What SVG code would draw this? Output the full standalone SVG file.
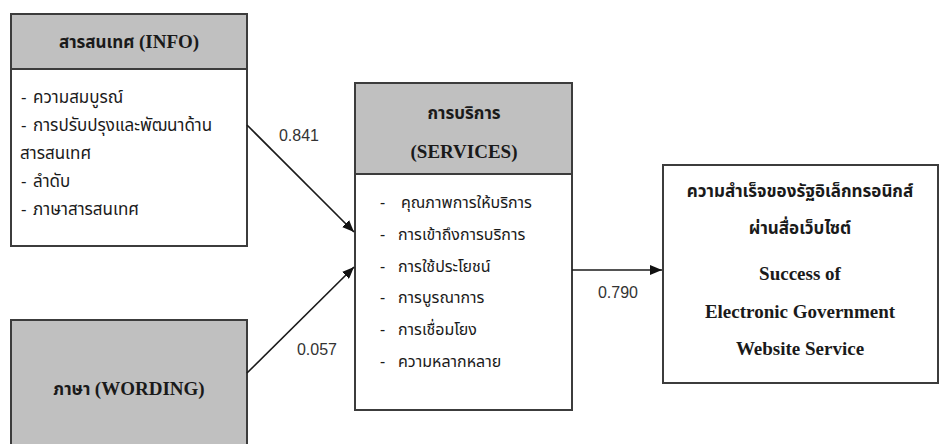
<svg xmlns="http://www.w3.org/2000/svg" width="941" height="444" viewBox="0 0 941 444">
<defs>
<style>
.box{fill:#ffffff;stroke:#3c3c3c;stroke-width:2}
.hdr{fill:#c0c0c0;stroke:#3c3c3c;stroke-width:2}
.th{font-family:"Noto Sans Thai","Noto Sans","DejaVu Sans",sans-serif;font-size:16px;fill:#1a1a1a}
.thi{font-family:"Noto Sans Thai","Noto Sans","DejaVu Sans",sans-serif;font-size:17px;fill:#1a1a1a}
.thb{font-family:"Noto Sans Thai","Noto Sans","DejaVu Sans",sans-serif;font-size:17px;font-weight:bold;fill:#1a1a1a}
.en{font-family:"Liberation Serif","Times New Roman",serif;font-weight:bold;font-size:19px;fill:#1a1a1a}
.num{font-family:"Liberation Sans",Arial,sans-serif;font-size:16px;fill:#333333}
.conn{stroke:#1a1a1a;stroke-width:1.6;fill:none}
</style>
<marker id="arr" viewBox="0 0 12 10" refX="12" refY="5" markerWidth="12" markerHeight="10" markerUnits="userSpaceOnUse" orient="auto">
<path d="M0,0 L12,5 L0,10 z" fill="#111111"/>
</marker>
</defs>
<rect width="941" height="444" fill="#ffffff"/>

<g id="info">
<rect class="box" x="11" y="14" width="236" height="232"/>
<rect class="hdr" x="11" y="14" width="236" height="55"/>
<text class="thb" x="129" y="48" text-anchor="middle">สารสนเทศ <tspan class="en" font-size="18px">(INFO)</tspan></text>
<text class="thi" x="21" y="103">-</text><text class="thi" x="33" y="103">ความสมบูรณ์</text>
<text class="thi" x="21" y="131">-</text><text class="thi" x="33" y="131">การปรับปรุงและพัฒนาด้าน</text>
<text class="thi" x="20" y="159">สารสนเทศ</text>
<text class="thi" x="21" y="187">-</text><text class="thi" x="33" y="187">ลำดับ</text>
<text class="thi" x="21" y="215">-</text><text class="thi" x="33" y="215">ภาษาสารสนเทศ</text>
</g>

<g id="wording">
<rect class="hdr" x="11" y="320" width="236" height="140"/>
<text class="thb" x="129" y="395" text-anchor="middle">ภาษา <tspan class="en" font-size="18px">(WORDING)</tspan></text>
</g>

<g id="services">
<rect class="box" x="355" y="83" width="217" height="327"/>
<rect class="hdr" x="355" y="83" width="217" height="91"/>
<text class="thb" x="464" y="119" text-anchor="middle" font-size="18px">การบริการ</text>
<text class="en" x="464" y="158" text-anchor="middle" font-size="18px">(SERVICES)</text>
<text class="th" x="380" y="208">-</text><text class="th" x="401" y="208">คุณภาพการให้บริการ</text>
<text class="th" x="380" y="240">-</text><text class="th" x="398" y="240">การเข้าถึงการบริการ</text>
<text class="th" x="380" y="272">-</text><text class="th" x="398" y="272">การใช้ประโยชน์</text>
<text class="th" x="380" y="303">-</text><text class="th" x="398" y="303">การบูรณาการ</text>
<text class="th" x="380" y="335">-</text><text class="th" x="398" y="335">การเชื่อมโยง</text>
<text class="th" x="380" y="367">-</text><text class="th" x="398" y="367">ความหลากหลาย</text>
</g>

<g id="success">
<rect class="box" x="663" y="165" width="275" height="218"/>
<text class="thb" x="800" y="197" text-anchor="middle" font-size="18.5px">ความสำเร็จของรัฐอิเล็กทรอนิกส์</text>
<text class="thb" x="800" y="234" text-anchor="middle" font-size="18.5px">ผ่านสื่อเว็บไซต์</text>
<text class="en" x="800" y="280" text-anchor="middle">Success of</text>
<text class="en" x="800" y="318" text-anchor="middle">Electronic Government</text>
<text class="en" x="800" y="355" text-anchor="middle">Website Service</text>
</g>

<g id="connectors">
<line class="conn" x1="247" y1="125" x2="354" y2="232" marker-end="url(#arr)"/>
<line class="conn" x1="247" y1="373" x2="354" y2="267" marker-end="url(#arr)"/>
<line class="conn" x1="572" y1="270" x2="662" y2="270" marker-end="url(#arr)"/>
<text class="num" x="299" y="141" text-anchor="middle">0.841</text>
<text class="num" x="317" y="355" text-anchor="middle">0.057</text>
<text class="num" x="618" y="298" text-anchor="middle">0.790</text>
</g>
</svg>
